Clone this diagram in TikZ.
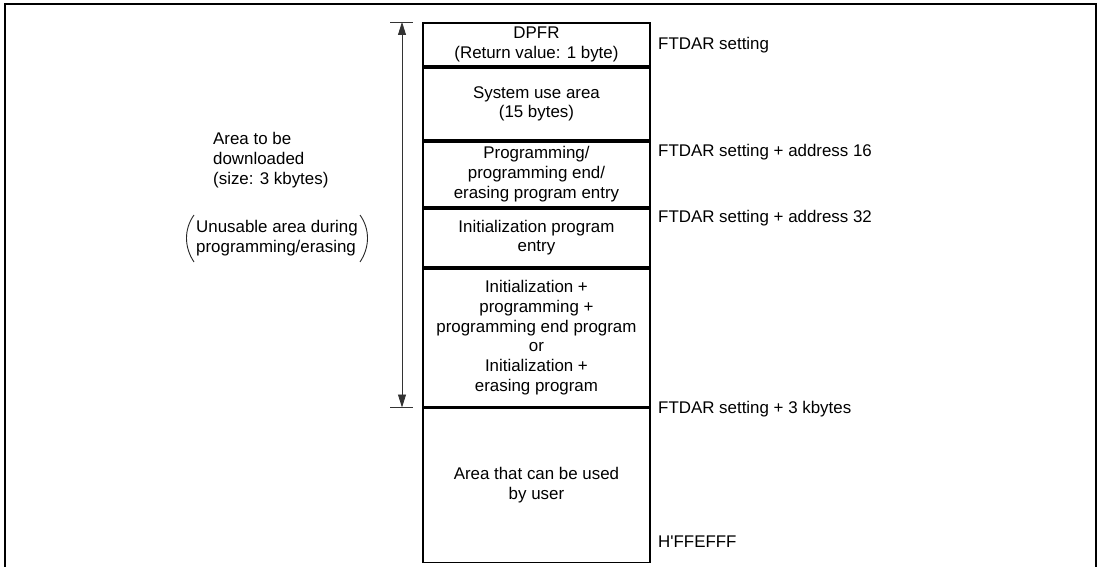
\documentclass[tikz,border=0pt]{standalone}
\usepackage{fontspec}
\setmainfont{Liberation Sans}
\usetikzlibrary{positioning,arrows.meta}

\begin{document}
\begin{tikzpicture}[
    x=1pt, y=-1pt,
    font=\fontsize{16.9}{19.7}\selectfont,
    cell/.style={rectangle, draw, line width=1.9pt, minimum width=227pt, inner sep=0pt, align=center},
    addr/.style={anchor=base west, inner sep=0pt},
    note/.style={anchor=west, inner sep=0pt, align=left},
    span/.style={{Triangle[length=13pt,width=8pt]}-{Triangle[length=13pt,width=8pt]}, line width=0.8pt, black!80},
    tick/.style={line width=0.8pt, black!80},
    paren/.style={line width=0.9pt, black!85}
]
    \useasboundingbox (0,0) rectangle (1102,567);
    \draw[line width=2.2pt] (5,580) -- (5,4) -- (1096,4) -- (1096,580);

    % memory map
    \node[cell, minimum height=43pt, anchor=north west] (dpfr) at (422,22) {DPFR\\(Return value: 1 byte)};
    \node[cell, minimum height=72pt, below=0pt of dpfr] (sysuse) {System use area\\(15 bytes)};
    \node[cell, minimum height=65pt, below=0pt of sysuse] (progentry) {Programming/\\programming end/\\erasing program entry};
    \node[cell, minimum height=58pt, below=0pt of progentry] (initentry) {Initialization program\\entry};
    \node[cell, minimum height=138pt, below=0pt of initentry] (initprog) {Initialization +\\programming +\\programming end program\\or\\Initialization +\\erasing program};
    \node[cell, minimum height=154pt, below=0pt of initprog] (userarea) {Area that can be used\\by user};

    % addresses
    \node[addr] (adr0) at (658,50) {FTDAR setting};
    \node[addr] (adr16) at (658,157) {FTDAR setting + address 16};
    \node[addr] (adr32) at (658,222) {FTDAR setting + address 32};
    \node[addr] (adr3k) at (658,413) {FTDAR setting + 3 kbytes};
    \node[addr] (adrend) at (658,547) {H\textquotesingle FFEFFF};

    % download area
    \coordinate (dltop) at ([xshift=-20pt]dpfr.north west);
    \coordinate (dlbot) at ([xshift=-20pt]initprog.south west);
    \draw[span] (dltop) -- (dlbot);
    \draw[tick] ([xshift=-12pt]dltop) -- ([xshift=11pt]dltop);
    \draw[tick] ([xshift=-12pt]dlbot) -- ([xshift=11pt]dlbot);

    \node[note] (dlarea) at (213,160) {Area to be\\downloaded\\(size: 3 kbytes)};
    \node[note] (unusable) at (196,238) {Unusable area during\\programming/erasing};
    \draw[paren] ([xshift=-2pt,yshift=23pt]unusable.west)
        .. controls ([xshift=-12pt,yshift=9pt]unusable.west) and ([xshift=-12pt,yshift=-9pt]unusable.west)
        .. ([xshift=-2pt,yshift=-24pt]unusable.west);
    \draw[paren] ([xshift=2pt,yshift=23pt]unusable.east)
        .. controls ([xshift=12pt,yshift=9pt]unusable.east) and ([xshift=12pt,yshift=-9pt]unusable.east)
        .. ([xshift=2pt,yshift=-24pt]unusable.east);
\end{tikzpicture}
\end{document}
